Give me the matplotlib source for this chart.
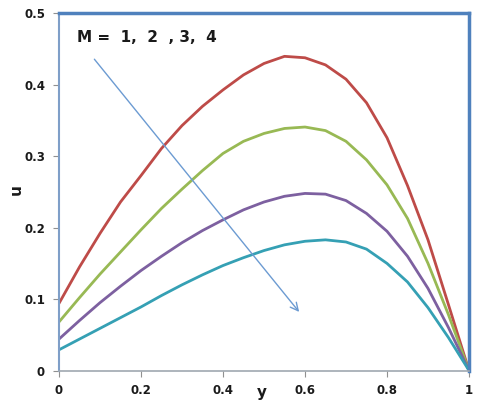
import matplotlib
matplotlib.use("Agg")
import matplotlib.pyplot as plt

y_vals = [0.00, 0.05, 0.10, 0.15, 0.20, 0.25, 0.30, 0.35, 0.40, 0.45, 0.50,
          0.55, 0.60, 0.65, 0.70, 0.75, 0.80, 0.85, 0.90, 0.95, 1.00]
u_M1 = [0.094, 0.145, 0.192, 0.236, 0.273, 0.311, 0.343, 0.370, 0.393, 0.414, 0.430,
        0.440, 0.438, 0.428, 0.408, 0.375, 0.326, 0.259, 0.183, 0.092, 0.000]
u_M2 = [0.068, 0.102, 0.135, 0.166, 0.197, 0.227, 0.254, 0.280, 0.304, 0.321, 0.332,
        0.339, 0.341, 0.336, 0.321, 0.295, 0.260, 0.213, 0.150, 0.078, 0.000]
u_M3 = [0.044, 0.070, 0.095, 0.118, 0.140, 0.160, 0.179, 0.196, 0.211, 0.225, 0.236,
        0.244, 0.248, 0.247, 0.238, 0.220, 0.195, 0.160, 0.115, 0.060, 0.000]
u_M4 = [0.029, 0.044, 0.059, 0.074, 0.089, 0.105, 0.120, 0.134, 0.147, 0.158, 0.168,
        0.176, 0.181, 0.183, 0.180, 0.170, 0.150, 0.124, 0.088, 0.046, 0.000]
series = [u_M1, u_M2, u_M3, u_M4]
colors = ["#BE4B48", "#98B954", "#7D60A0", "#35A0B4"]

x_ticks = [0, 0.2, 0.4, 0.6, 0.8, 1]
x_ticklabels = ["0", "0.2", "0.4", "0.6", "0.8", "1"]
y_ticks = [0, 0.1, 0.2, 0.3, 0.4, 0.5]
y_ticklabels = ["0", "0.1", "0.2", "0.3", "0.4", "0.5"]

plt.rcParams['font.family'] = ['DejaVu Sans']

fig = plt.figure(figsize=(4.79, 4.03), dpi=100)
ax = fig.add_axes([59/479, 32.5/403, 410/479, 357/403])

for s, c in zip(series, colors):
    ax.plot(y_vals, s, color=c, lw=2.0, solid_capstyle='round',
            solid_joinstyle='round')

ax.set_xlim(0, 1)
ax.set_ylim(0, 0.5)
ax.set_xticks(x_ticks)
ax.set_xticklabels(x_ticklabels, fontsize=8.5, fontweight='bold', color='#1a1a1a')
ax.set_yticks(y_ticks)
ax.set_yticklabels(y_ticklabels, fontsize=8.5, fontweight='bold', color='#1a1a1a')
ax.tick_params(axis='both', direction='out', length=4, width=0.8, color='#909090', pad=6)

for side in ['top', 'right']:
    ax.spines[side].set_color('#4F81BD')
    ax.spines[side].set_linewidth(2.5)
ax.spines['left'].set_color('#7F9FC8')
ax.spines['left'].set_linewidth(1.5)
ax.spines['bottom'].set_color('#A0A8B0')
ax.spines['bottom'].set_linewidth(1.2)

ax.text(0.043, 0.466, "M =  1,  2  , 3,  4", fontsize=11, fontweight='bold',
        transform=ax.transData, va='center', ha='left', color='#1a1a1a')
ax.annotate("", xy=(0.590, 0.079), xytext=(0.082, 0.439),
            arrowprops=dict(arrowstyle='->', color='#6C9BD2', lw=1.0,
                            mutation_scale=14))

fig.text(16/479, 1 - 190/403, "u", fontsize=11, fontweight='bold', rotation=90,
         ha='center', va='center', color='#1a1a1a')
fig.text(262/479, 1 - 392/403, "y", fontsize=11, fontweight='bold',
         ha='center', va='center', color='#1a1a1a')

fig.savefig("out.png", dpi=100)
